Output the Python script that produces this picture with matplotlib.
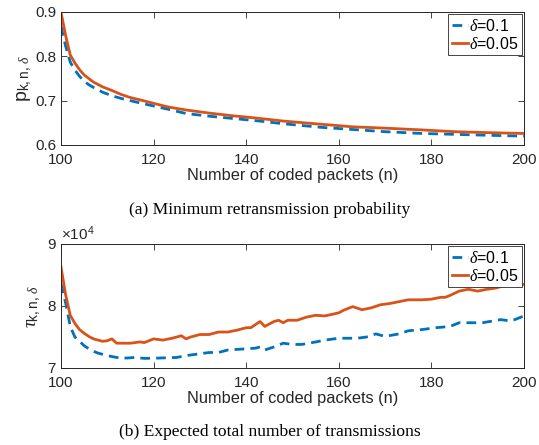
import numpy as np
import matplotlib
matplotlib.use("Agg")
import matplotlib.pyplot as plt
from matplotlib.ticker import ScalarFormatter

plt.rcParams["font.family"] = "Liberation Sans"
plt.rcParams["mathtext.fontset"] = "custom"
plt.rcParams["mathtext.rm"] = "Liberation Sans"
plt.rcParams["mathtext.it"] = "Liberation Serif:italic"

BLUE = "#0072BD"
ORANGE = "#D95319"
GREY = "#262626"

# (a) minimum retransmission probability
n_a = [100, 101, 102, 103, 104, 105, 106, 107, 109, 111, 113, 115, 117, 120,
       123, 127, 132, 137, 142, 148, 156, 163, 170, 178, 185, 192, 200]
p_d05 = [0.900, 0.847, 0.803, 0.785, 0.770, 0.758, 0.750, 0.742, 0.731, 0.723,
         0.714, 0.707, 0.702, 0.694, 0.686, 0.679, 0.672, 0.666, 0.661, 0.654,
         0.647, 0.641, 0.638, 0.634, 0.630, 0.628, 0.626]
p_d10 = [0.868, 0.823, 0.787, 0.769, 0.755, 0.744, 0.736, 0.730, 0.719, 0.711,
         0.705, 0.700, 0.695, 0.688, 0.681, 0.671, 0.665, 0.660, 0.655, 0.648,
         0.640, 0.635, 0.630, 0.626, 0.624, 0.622, 0.620]

# (b) expected total number of transmissions (x1e4)
n_b05 = [100, 101, 102, 103, 104, 105, 106, 107, 108, 109, 110, 111, 112, 114,
         115, 117, 118, 120, 122, 124, 126, 127, 128, 130, 132, 134, 136, 138,
         140, 141, 143, 144, 146, 147, 148, 149, 151, 153, 155, 157, 160, 161,
         163, 165, 167, 169, 171, 173, 175, 178, 180, 182, 183, 184, 186, 188,
         190, 192, 194, 196, 198, 200]
tau_d05 = [8.63, 8.18, 7.85, 7.72, 7.62, 7.56, 7.51, 7.47, 7.45, 7.43, 7.44,
           7.47, 7.40, 7.40, 7.40, 7.42, 7.41, 7.47, 7.45, 7.48, 7.52, 7.47,
           7.50, 7.54, 7.54, 7.58, 7.58, 7.61, 7.65, 7.65, 7.75, 7.67, 7.75,
           7.77, 7.73, 7.77, 7.77, 7.82, 7.85, 7.84, 7.89, 7.93, 7.99, 7.94,
           7.97, 8.02, 8.04, 8.07, 8.10, 8.10, 8.11, 8.14, 8.14, 8.17, 8.24,
           8.27, 8.24, 8.27, 8.29, 8.34, 8.33, 8.35]
n_b10 = [100, 101, 102, 103, 104, 105, 106, 107, 108, 110, 112, 114, 116, 118,
         121, 123, 125, 127, 129, 132, 134, 136, 138, 140, 142, 143, 144, 146,
         148, 150, 152, 155, 157, 160, 162, 164, 166, 168, 170, 173, 175, 178,
         181, 184, 186, 189, 191, 195, 197, 198, 200]
tau_d10 = [8.36, 8.05, 7.67, 7.50, 7.43, 7.36, 7.31, 7.27, 7.24, 7.20, 7.17,
           7.16, 7.17, 7.155, 7.16, 7.165, 7.17, 7.20, 7.22, 7.25, 7.25, 7.29,
           7.30, 7.31, 7.32, 7.34, 7.29, 7.34, 7.40, 7.38, 7.38, 7.42, 7.45,
           7.48, 7.48, 7.48, 7.50, 7.55, 7.51, 7.55, 7.60, 7.62, 7.65, 7.67,
           7.73, 7.73, 7.73, 7.78, 7.76, 7.78, 7.84]

W, H = 539, 445
fig = plt.figure(figsize=(W/100, H/100), dpi=100)


def style(ax):
    ax.tick_params(direction="in", top=True, right=True, length=4, width=0.6,
                   color=GREY, labelsize=11, labelcolor=GREY)
    ax.tick_params(axis="x", pad=5.5)
    ax.tick_params(axis="y", pad=3)
    for s in ax.spines.values():
        s.set_color(GREY)
        s.set_linewidth(0.7)
    ax.set_xlim(100, 200)
    ax.set_xticks([100, 120, 140, 160, 180, 200])
    ax.set_xlabel("Number of coded packets (n)", fontsize=11.8, color=GREY, labelpad=1)


def add_legend(ax):
    leg = ax.legend(loc="upper right", fontsize=11.5, handlelength=1.0,
                    handletextpad=0.1, borderpad=0.2, labelspacing=0.15,
                    borderaxespad=0.15, fancybox=False, framealpha=1)
    leg.get_frame().set_edgecolor(GREY)
    leg.get_frame().set_linewidth(0.6)


ax1 = fig.add_axes([61/W, 1-145/H, 463/W, 133/H])
ax1.plot(n_a, p_d10, color=BLUE, lw=2.0, ls=(0, (3.5, 2.2)), label=r"$\delta$=0.1")
ax1.plot(n_a, p_d05, color=ORANGE, lw=2.0, label=r"$\delta$=0.05")
style(ax1)
ax1.set_ylim(0.6, 0.9)
ax1.set_yticks([0.6, 0.7, 0.8, 0.9])
ax1.set_ylabel(r"$\mathrm{p}_{\mathrm{k,n,}\,\delta}$", fontsize=14, color=GREY, labelpad=1)
add_legend(ax1)

ax2 = fig.add_axes([61/W, 1-368/H, 463/W, 124/H])
ax2.plot(n_b10, np.array(tau_d10)*1e4, color=BLUE, lw=2.0, ls=(0, (3.5, 2.2)), label=r"$\delta$=0.1")
ax2.plot(n_b05, np.array(tau_d05)*1e4, color=ORANGE, lw=2.0, label=r"$\delta$=0.05")
style(ax2)
ax2.set_ylim(7e4, 9e4)
ax2.set_yticks([7e4, 8e4, 9e4])
fmt = ScalarFormatter(useMathText=True)
fmt.set_powerlimits((0, 0))
ax2.yaxis.set_major_formatter(fmt)
ax2.yaxis.get_offset_text().set_fontsize(11)
ax2.yaxis.get_offset_text().set_color(GREY)
ax2.set_ylabel(r"$\tau_{\mathrm{k,n,}\,\delta}$", fontsize=14, color=GREY, labelpad=3)
add_legend(ax2)

fig.text(0.5, 1-210/H, "(a) Minimum retransmission probability",
         family="Liberation Serif", fontsize=12.6, ha="center", va="center")
fig.text(0.5, 1-432/H, "(b) Expected total number of transmissions",
         family="Liberation Serif", fontsize=12.6, ha="center", va="center")

fig.savefig("out.png", dpi=100)
